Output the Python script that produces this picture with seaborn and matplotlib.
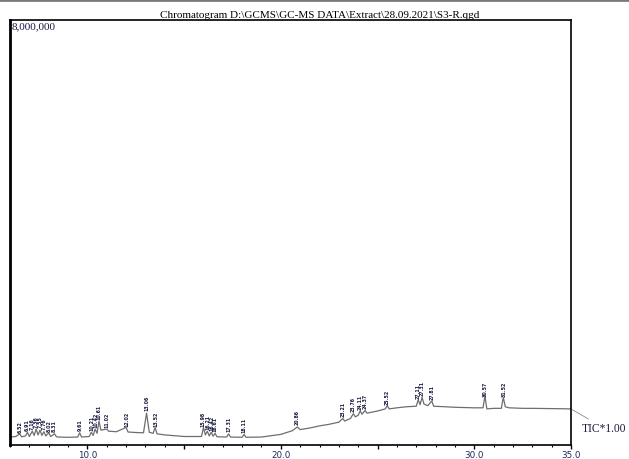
import numpy as np
import pandas as pd
import seaborn as sns
import matplotlib.pyplot as plt
from matplotlib.lines import Line2D
from matplotlib.ticker import MultipleLocator, FixedLocator

# Trace (retention time in min, TIC counts)
times = [6.0, 6.3, 6.5, 6.6, 6.8, 6.9, 7.0, 7.15, 7.25, 7.35, 7.45, 7.55, 7.65, 7.75,
         7.85, 8.0, 8.1, 8.3, 8.4, 8.5, 9.0, 9.5, 9.6, 9.7, 10.1, 10.2, 10.3, 10.4,
         10.5, 10.6, 10.7, 11.0, 11.1, 11.5, 12.0, 12.1, 12.5, 12.9, 13.06, 13.2,
         13.4, 13.5, 13.6, 14.0, 15.0, 15.9, 16.0, 16.1, 16.2, 16.3, 16.4, 16.5,
         16.6, 16.7, 17.2, 17.3, 17.4, 18.0, 18.1, 18.2, 19.0, 20.0, 20.6, 20.85,
         21.0, 21.5, 22.0, 22.5, 23.0, 23.2, 23.3, 23.6, 23.75, 23.85, 24.0, 24.1,
         24.2, 24.35, 24.45, 24.6, 25.0, 25.4, 25.5, 25.6, 26.0, 26.5, 27.0, 27.1,
         27.2, 27.3, 27.4, 27.6, 27.8, 27.9, 28.5, 29.0, 29.5, 30.0, 30.45, 30.55,
         30.65, 31.0, 31.4, 31.5, 31.6, 31.8, 32.5, 33.0, 34.0, 35.0]
tic = [150e3, 160e3, 210e3, 155e3, 170e3, 240e3, 160e3, 260e3, 180e3, 300e3, 190e3,
       280e3, 180e3, 250e3, 170e3, 230e3, 160e3, 210e3, 155e3, 150e3, 145e3, 150e3,
       230e3, 150e3, 160e3, 240e3, 180e3, 300e3, 220e3, 450e3, 280e3, 300e3, 260e3,
       250e3, 330e3, 245e3, 235e3, 230e3, 600e3, 240e3, 220e3, 330e3, 210e3, 190e3,
       160e3, 160e3, 330e3, 190e3, 260e3, 170e3, 240e3, 165e3, 220e3, 155e3, 150e3,
       210e3, 150e3, 145e3, 200e3, 145e3, 150e3, 200e3, 270e3, 340e3, 290e3, 320e3,
       360e3, 390e3, 430e3, 500e3, 450e3, 500e3, 590e3, 530e3, 560e3, 640e3, 580e3,
       650e3, 600e3, 610e3, 640e3, 680e3, 740e3, 680e3, 700e3, 720e3, 730e3, 850e3,
       760e3, 900e3, 770e3, 740e3, 830e3, 730e3, 720e3, 710e3, 705e3, 700e3, 700e3,
       920e3, 680e3, 690e3, 690e3, 900e3, 720e3, 700e3, 690e3, 690e3, 685e3, 680e3]

# Retention times printed above the detected peaks
peak_times = [6.52, 6.91, 7.16, 7.36, 7.55, 7.76, 8.02, 8.31, 9.61, 10.21, 10.42,
              10.61, 11.02, 12.02, 13.06, 13.52, 15.98, 16.21, 16.42, 16.61, 17.31,
              18.11, 20.86, 23.21, 23.76, 24.11, 24.37, 25.52, 27.11, 27.31, 27.81,
              30.57, 31.52]

x_tick_labels = ["10.0", "", "20.0", "", "30.0", "35.0"]
title = "Chromatogram D:\\GCMS\\GC-MS DATA\\Extract\\28.09.2021\\S3-R.qgd"

df = pd.DataFrame({"time": times, "tic": tic})

sns.set_style("white")
plt.rcParams['font.family'] = ['DejaVu Sans']

fig = plt.figure(figsize=(6.29, 4.60), dpi=100)
ax = fig.add_axes([10 / 629, 1 - 446 / 460, 561 / 629, 425 / 460])

sns.lineplot(data=df, x="time", y="tic", ax=ax, color="#6e6e6e", linewidth=0.9,
             estimator=None)

ax.set_xlim(6.0, 35.0)
ax.set_ylim(0, 8_000_000)
ax.set_xlabel("")
ax.set_ylabel("")
ax.set_yticks([])

ax.xaxis.set_major_locator(FixedLocator([10, 15, 20, 25, 30, 35]))
ax.xaxis.set_minor_locator(MultipleLocator(1))
ax.set_xticklabels(x_tick_labels)
ax.tick_params(axis="x", which="major", direction="out", length=3, width=1,
               colors="black", labelsize=6.3, pad=0.3, labelcolor="#1f2a5c", bottom=True)
ax.tick_params(axis="x", which="minor", direction="out", length=1.6, width=0.8,
               colors="black", bottom=True)

for side in ["top", "right", "bottom"]:
    ax.spines[side].set_color("black")
    ax.spines[side].set_linewidth(1.2)
ax.spines["left"].set_color("black")
ax.spines["left"].set_linewidth(2.0)

# peak labels
for t in peak_times:
    y = np.interp(t, times, tic)
    ax.annotate(f"{t:.2f}", xy=(t, y), xytext=(0, 2), textcoords="offset points",
                rotation=90, ha="center", va="bottom", fontsize=3.4,
                color="#1a1a40", fontweight="bold")

ax.text(0.003, 0.997, "8,000,000", transform=ax.transAxes, ha="left", va="top",
        fontsize=8, family="Liberation Serif", color="#1a1a40")

ax.annotate("TIC*1.00", xy=(35.0, tic[-1]), xytext=(8, -14),
            textcoords="offset points", ha="left", va="center", fontsize=8.3,
            family="Liberation Serif", color="#1a1a40", annotation_clip=False,
            arrowprops=dict(arrowstyle="-", color="#8a8a8a", lw=0.6,
                            shrinkA=0, shrinkB=1))

fig.text(320 / 629, 1 - 15 / 460, title, ha="center", va="center", fontsize=8,
         family="Liberation Serif", color="black")

fig.add_artist(Line2D([0, 1], [0.997, 0.997], transform=fig.transFigure,
                      color="#7a7a7a", linewidth=2))

fig.savefig("out.png", dpi=100)
